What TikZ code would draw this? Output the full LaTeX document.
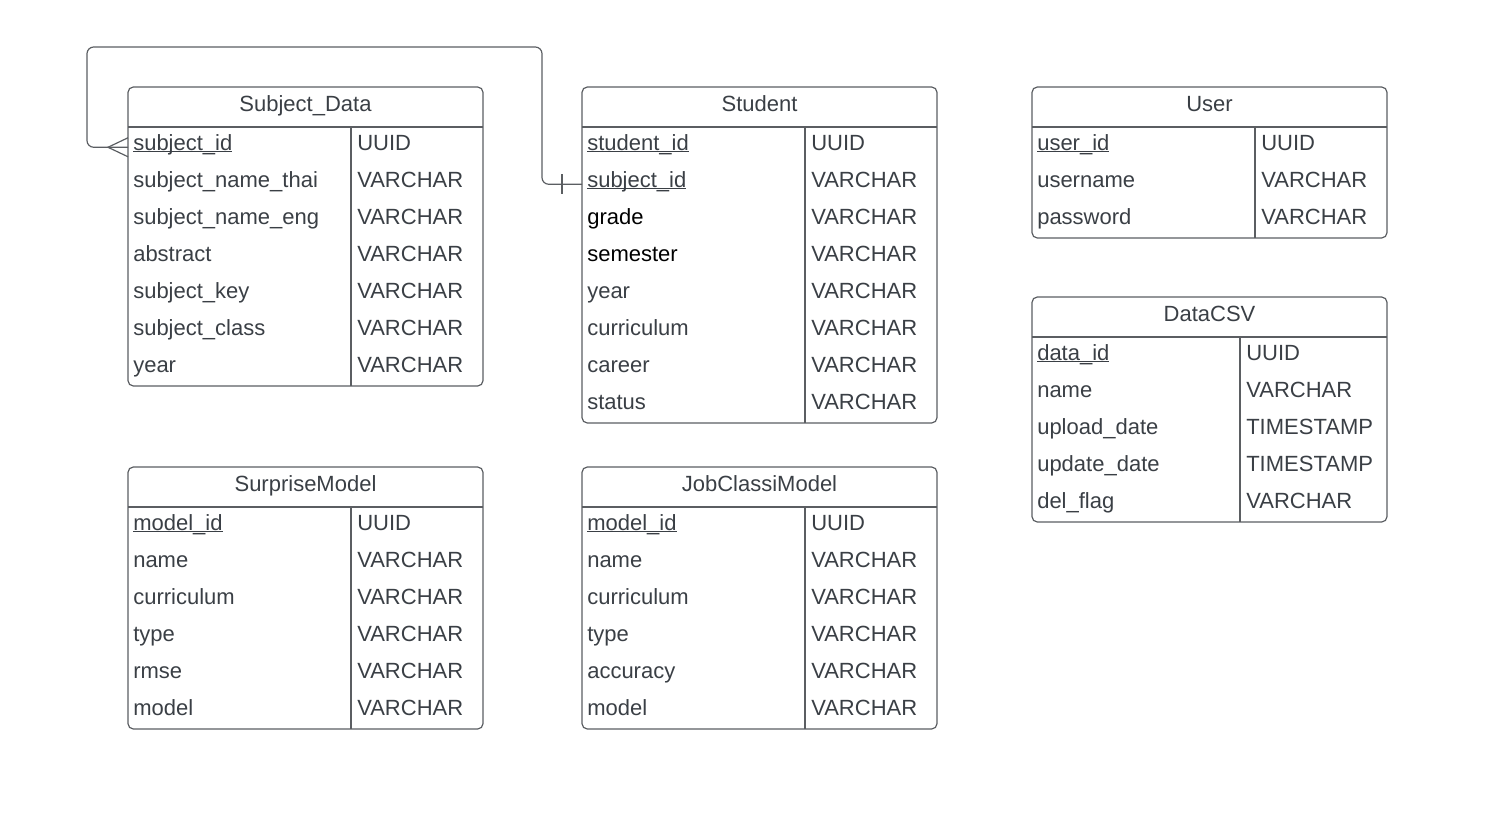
\documentclass[tikz,border=0pt]{standalone}
\usepackage{fontspec}
\setmainfont{Liberation Sans}
\usetikzlibrary{calc}
\definecolor{inkgray}{HTML}{3A3F45}
\definecolor{linegray}{HTML}{5B5E62}
% underlined primary-key field
\newcommand\keyf[1]{\setbox0\hbox{#1}\rlap{\rule[-0.1em]{\wd0}{0.055em}}\box0}
% field set in plain black
\newcommand\blk[1]{\textcolor{black}{#1}}
\tikzset{
  every node/.style={font=\fontsize{16.5}{19}\selectfont, text=inkgray},
  fieldtxt/.style={anchor=base west, inner xsep=3.75pt, inner ysep=0pt, text height=0.71em, text depth=0.3em},
  typetxt/.style={anchor=base west, inner xsep=4.5pt, inner ysep=0pt},
  headtxt/.style={anchor=base, inner sep=0pt},
  frame/.style={draw=linegray, line width=0.9pt},
  rel/.style={draw=linegray, line width=0.9pt, rounded corners=5pt}
}
% #1 id, #2 left, #3 top, #4 right, #5 divider x, #6 title, #7 field/type list, #8 number of rows
\newcommand\erdtable[8]{%
  \pgfmathsetmacro\tblbot{#3+40+37*#8}
  \draw[frame, rounded corners=4pt] (#2,#3) rectangle (#4,\tblbot);
  \draw[frame] (#2,#3+40) -- (#4,#3+40);
  \draw[frame] (#5,#3+40) -- (#5,\tblbot);
  \node[headtxt] (#1) at ({(#2+#4)/2},#3+24) {#6};
  \foreach \fld/\typ [count=\i] in {#7} {
    \node[fieldtxt] (#1-\i) at (#2,#3+63+37*\i-37) {\fld};
    \node[typetxt] (#1-\i-type) at (#5,#3+63+37*\i-37) {\typ};
  }
}
\begin{document}
\begin{tikzpicture}[x=0.75pt, y=-0.75pt]
\useasboundingbox (0,0) rectangle (1499,814);

\erdtable{sd}{128}{87}{483}{351}{Subject\_Data}{%
  \keyf{subject\_id}/UUID, subject\_name\_thai/VARCHAR, subject\_name\_eng/VARCHAR,
  abstract/VARCHAR, subject\_key/VARCHAR, subject\_class/VARCHAR, year/VARCHAR}{7}

\erdtable{st}{582}{87}{937}{805}{Student}{%
  \keyf{student\_id}/UUID, \keyf{subject\_id}/VARCHAR, \blk{grade}/VARCHAR,
  \blk{semester}/VARCHAR, year/VARCHAR, curriculum/VARCHAR, career/VARCHAR, status/VARCHAR}{8}

\erdtable{us}{1032}{87}{1387}{1255}{User}{%
  \keyf{user\_id}/UUID, username/VARCHAR, password/VARCHAR}{3}

\erdtable{dc}{1032}{297}{1387}{1240}{DataCSV}{%
  \keyf{data\_id}/UUID, name/VARCHAR, upload\_date/TIMESTAMP,
  update\_date/TIMESTAMP, del\_flag/VARCHAR}{5}

\erdtable{sm}{128}{467}{483}{351}{SurpriseModel}{%
  \keyf{model\_id}/UUID, name/VARCHAR, curriculum/VARCHAR,
  type/VARCHAR, rmse/VARCHAR, model/VARCHAR}{6}

\erdtable{jc}{582}{467}{937}{805}{JobClassiModel}{%
  \keyf{model\_id}/UUID, name/VARCHAR, curriculum/VARCHAR,
  type/VARCHAR, accuracy/VARCHAR, model/VARCHAR}{6}

% relationship Student.subject_id -> Subject_Data.subject_id
\coordinate (bendA) at (542,47);
\coordinate (bendB) at (87,47);
\draw[rel] (st-2.west) -| (bendA) -- (bendB) |- (sd-1.west);
% crow's foot (many) at Subject_Data
\draw[frame] ($(sd-1.west)+(0,-9.5)$) -- ($(sd-1.west)+(-20,0)$) -- ($(sd-1.west)+(0,9.5)$);
% single bar (one) at Student
\draw[frame] ($(st-2.west)+(-20,-10)$) -- ($(st-2.west)+(-20,10)$);
\end{tikzpicture}
\end{document}
